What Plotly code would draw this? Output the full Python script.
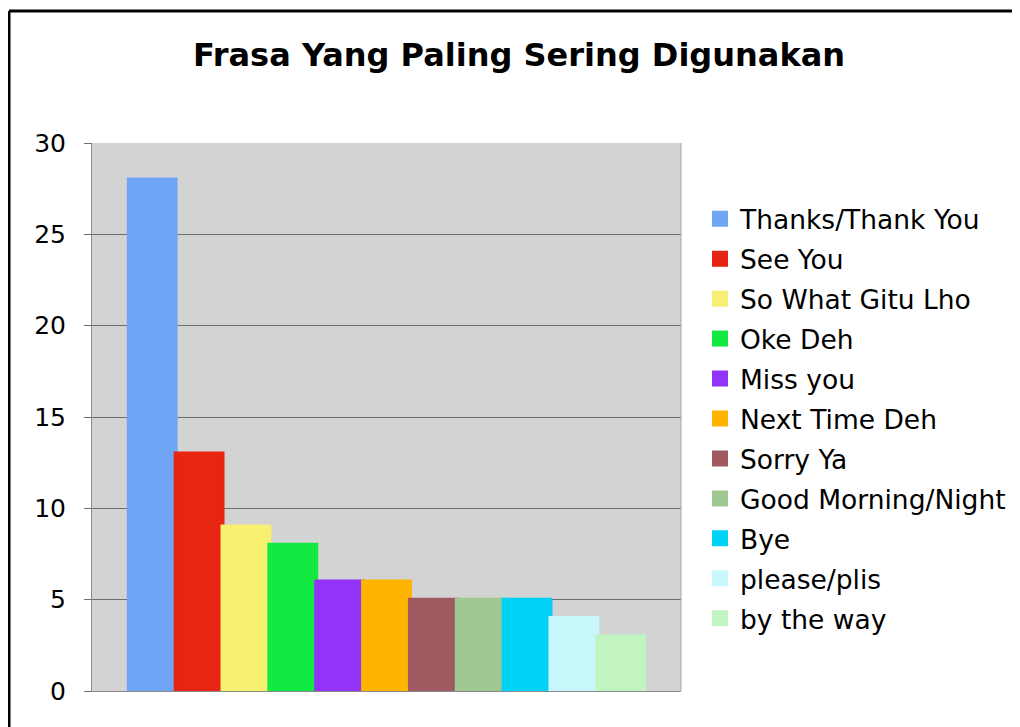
import plotly.graph_objects as go

phrases = ["Thanks/Thank You", "See You", "So What Gitu Lho", "Oke Deh", "Miss you",
           "Next Time Deh", "Sorry Ya", "Good Morning/Night", "Bye", "please/plis", "by the way"]
counts = [28, 13, 9, 8, 6, 6, 5, 5, 5, 4, 3]
colors = ["#6fa5f5", "#e82412", "#f8f070", "#12ea42", "#9333f8", "#ffb400",
          "#a05a62", "#a0c892", "#00d2f8", "#c8f8fc", "#c2f4c2"]
y_ticks = [0, 5, 10, 15, 20, 25, 30]

fig = go.Figure()
for name, val, col in zip(phrases, counts, colors):
    fig.add_trace(go.Bar(
        x=[""], y=[val], name=name, legendgroup=name,
        marker=dict(color=col, line=dict(color=col, width=4)),
    ))

OFF = 8  # page body margin
L, R, T, B = 92 - OFF, 339, 143 - OFF, 36
W, H = 1020 - OFF, 727 - OFF
pw, ph = W - L - R, H - T - B

def px(x):
    return (x - OFF - L) / pw

def py(y):
    return (H - B - (y - OFF)) / ph

fig.update_layout(
    width=W, height=H,
    margin=dict(l=L, r=R, t=T, b=B, autoexpand=False),
    paper_bgcolor="white",
    plot_bgcolor="#d3d3d3",
    font=dict(family="DejaVu Sans, Verdana, sans-serif", color="black"),
    barmode="group", bargap=0.125, bargroupgap=0,
    title=dict(text="<b>Frasa Yang Paling Sering Digunakan</b>",
               x=(519 - OFF) / W, xanchor="center", y=1 - (55 - OFF) / H, yanchor="middle",
               font=dict(size=32, color="black")),
    showlegend=True,
    legend=dict(x=px(700), xanchor="left", y=py(195), yanchor="top",
                font=dict(size=26.5, color="black"), bgcolor="rgba(0,0,0,0)",
                tracegroupgap=2.5, traceorder="grouped", itemwidth=30),
    xaxis=dict(showticklabels=False, showgrid=False, zeroline=False,
               showline=True, linecolor="#8a8a8a", linewidth=1, mirror=False),
    yaxis=dict(range=[0, 30], tickvals=y_ticks, showgrid=True, gridcolor="#6e6e6e",
               gridwidth=1, zeroline=False, showline=True, linecolor="#8a8a8a",
               ticks="outside", ticklen=7, tickcolor="#6e6e6e",
               tickfont=dict(size=25, color="black"), ticklabelstandoff=13),
    shapes=[
        dict(type="line", xref="paper", yref="paper", x0=px(9), x1=px(1030),
             y0=py(11), y1=py(11), line=dict(color="black", width=3)),
        dict(type="line", xref="paper", yref="paper", x0=px(9), x1=px(9),
             y0=py(11), y1=py(740), line=dict(color="black", width=3)),
        dict(type="line", xref="paper", yref="paper", x0=1, x1=1,
             y0=0, y1=1, line=dict(color="#a8a8a8", width=1)),
    ],
)

fig.write_html("out.html")
